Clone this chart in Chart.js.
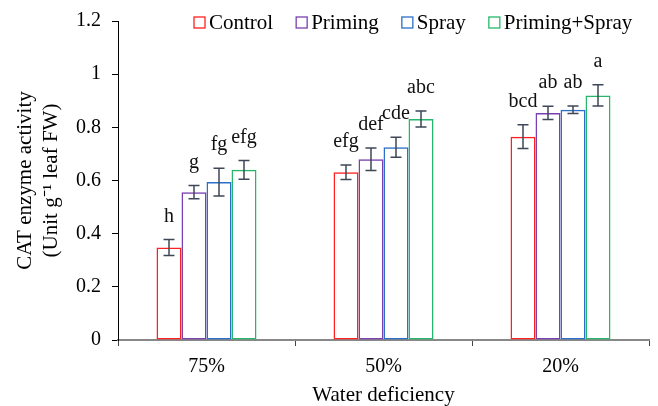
<!DOCTYPE html>
<html>
<head>
<meta charset="utf-8">
<script src="https://cdn.jsdelivr.net/npm/chart.js@4/dist/chart.umd.min.js"></script>
<style>
	body { margin: 0; background: #fff; }
	#wrap { width: 658px; height: 406px; }
</style>
</head>
<body>
<div id="wrap"><canvas id="CatChart" width="658" height="406"></canvas></div>
<script>
// values
var categories = ["75%", "50%", "20%"];
var seriesNames = ["Control", "Priming", "Spray", "Priming+Spray"];
var seriesColors = ["#ff2020", "#7a3fb0", "#2b6fc8", "#25b86a"];

var control = [0.348, 0.631, 0.765];
var priming = [0.556, 0.680, 0.854];
var spray = [0.594, 0.725, 0.866];
var primingSpray = [0.640, 0.831, 0.920];

var controlErr = [0.030, 0.027, 0.045];
var primingErr = [0.025, 0.042, 0.025];
var sprayErr = [0.052, 0.038, 0.014];
var primingSprayErr = [0.035, 0.030, 0.040];

var controlLetters = ["h", "efg", "bcd"];
var primingLetters = ["g", "def", "ab"];
var sprayLetters = ["fg", "cde", "ab"];
var primingSprayLetters = ["efg", "abc", "a"];

var yTicks = [0, 0.2, 0.4, 0.6, 0.8, 1, 1.2];

var seriesValues = [control, priming, spray, primingSpray];
var seriesErrors = [controlErr, primingErr, sprayErr, primingSprayErr];
var seriesLetters = [controlLetters, primingLetters, sprayLetters, primingSprayLetters];

var serif = "'Liberation Serif', 'Times New Roman', serif";
Chart.defaults.font.family = serif;
Chart.defaults.color = "#000";

// error bars + significance letters
var errorBarPlugin = {
	id: "errorBars",
	afterDatasetsDraw: function(chart) {
		var ctx = chart.ctx;
		var y = chart.scales.y;
		ctx.save();
		chart.data.datasets.forEach(function(ds, i) {
			var meta = chart.getDatasetMeta(i);
			meta.data.forEach(function(bar, j) {
				var v = ds.data[j], e = seriesErrors[i][j];
				var top = y.getPixelForValue(v + e);
				var bot = y.getPixelForValue(v - e);
				ctx.strokeStyle = "#3f4756";
				ctx.lineWidth = 1.5;
				ctx.beginPath();
				ctx.moveTo(bar.x, top); ctx.lineTo(bar.x, bot);
				ctx.moveTo(bar.x - 5.5, top); ctx.lineTo(bar.x + 5.5, top);
				ctx.moveTo(bar.x - 5.5, bot); ctx.lineTo(bar.x + 5.5, bot);
				ctx.stroke();
				ctx.fillStyle = "#111";
				ctx.font = "20px " + serif;
				ctx.textAlign = "center";
				ctx.textBaseline = "alphabetic";
				ctx.fillText(seriesLetters[i][j], bar.x, top - 18);
			});
		});
		ctx.restore();
	}
};

// legend drawn over the top of the plot
var legendPlugin = {
	id: "topLegend",
	afterDraw: function(chart) {
		var ctx = chart.ctx;
		var x = 194, cy = 22.5;
		ctx.save();
		ctx.font = "21px " + serif;
		ctx.textBaseline = "middle";
		ctx.textAlign = "left";
		chart.data.datasets.forEach(function(ds) {
			ctx.strokeStyle = ds.borderColor;
			ctx.lineWidth = 1.3;
			ctx.strokeRect(x, cy - 5.5, 11, 11);
			ctx.fillStyle = "#000";
			ctx.fillText(ds.label, x + 15, cy + 1);
			x += 15 + ctx.measureText(ds.label).width + 23;
		});
		ctx.restore();
	}
};

new Chart(document.getElementById("CatChart").getContext("2d"), {
	type: "bar",
	data: {
		labels: categories,
		datasets: seriesNames.map(function(name, i) {
			return {
				label: name,
				data: seriesValues[i],
				backgroundColor: "rgba(255,255,255,0)",
				borderColor: seriesColors[i],
				borderWidth: 1.5,
				borderSkipped: false,
				categoryPercentage: 0.565,
				barPercentage: 1.0
			};
		})
	},
	options: {
		responsive: false,
		animation: false,
		layout: { padding: { top: 20, right: 9, left: 0, bottom: 0 } },
		plugins: {
			legend: { display: false },
			tooltip: { enabled: false }
		},
		scales: {
			x: {
				grid: { offset: true, drawOnChartArea: false, tickLength: 6, color: "#444" },
				border: { color: "#888", width: 2 },
				ticks: { font: { size: 20 }, padding: 9 },
				title: { display: true, text: "Water deficiency", font: { size: 21, lineHeight: 1.0 }, padding: { top: 8, bottom: 0 } },
				afterFit: function(scale) { scale.height = 66; }
			},
			y: {
				min: 0,
				max: 1.2,
				afterBuildTicks: function(scale) {
					scale.ticks = yTicks.map(function(v) { return { value: v }; });
				},
				ticks: {
					font: { size: 20, lineHeight: 1.0 },
					padding: 11,
					callback: function(v) { return String(Math.round(v * 10) / 10); }
				},
				grid: { drawOnChartArea: false, tickLength: 6, color: "#000" },
				border: { color: "#000", width: 1 },
				title: {
					display: true,
					text: ["CAT enzyme activity", "(Unit g\u207B\u00B9 leaf FW)"],
					font: { size: 21, lineHeight: 1.22 },
					padding: { top: 13, bottom: 0 }
				},
				afterFit: function(scale) { scale.width = 118; }
			}
		}
	},
	plugins: [errorBarPlugin, legendPlugin]
});
</script>
</body>
</html>
